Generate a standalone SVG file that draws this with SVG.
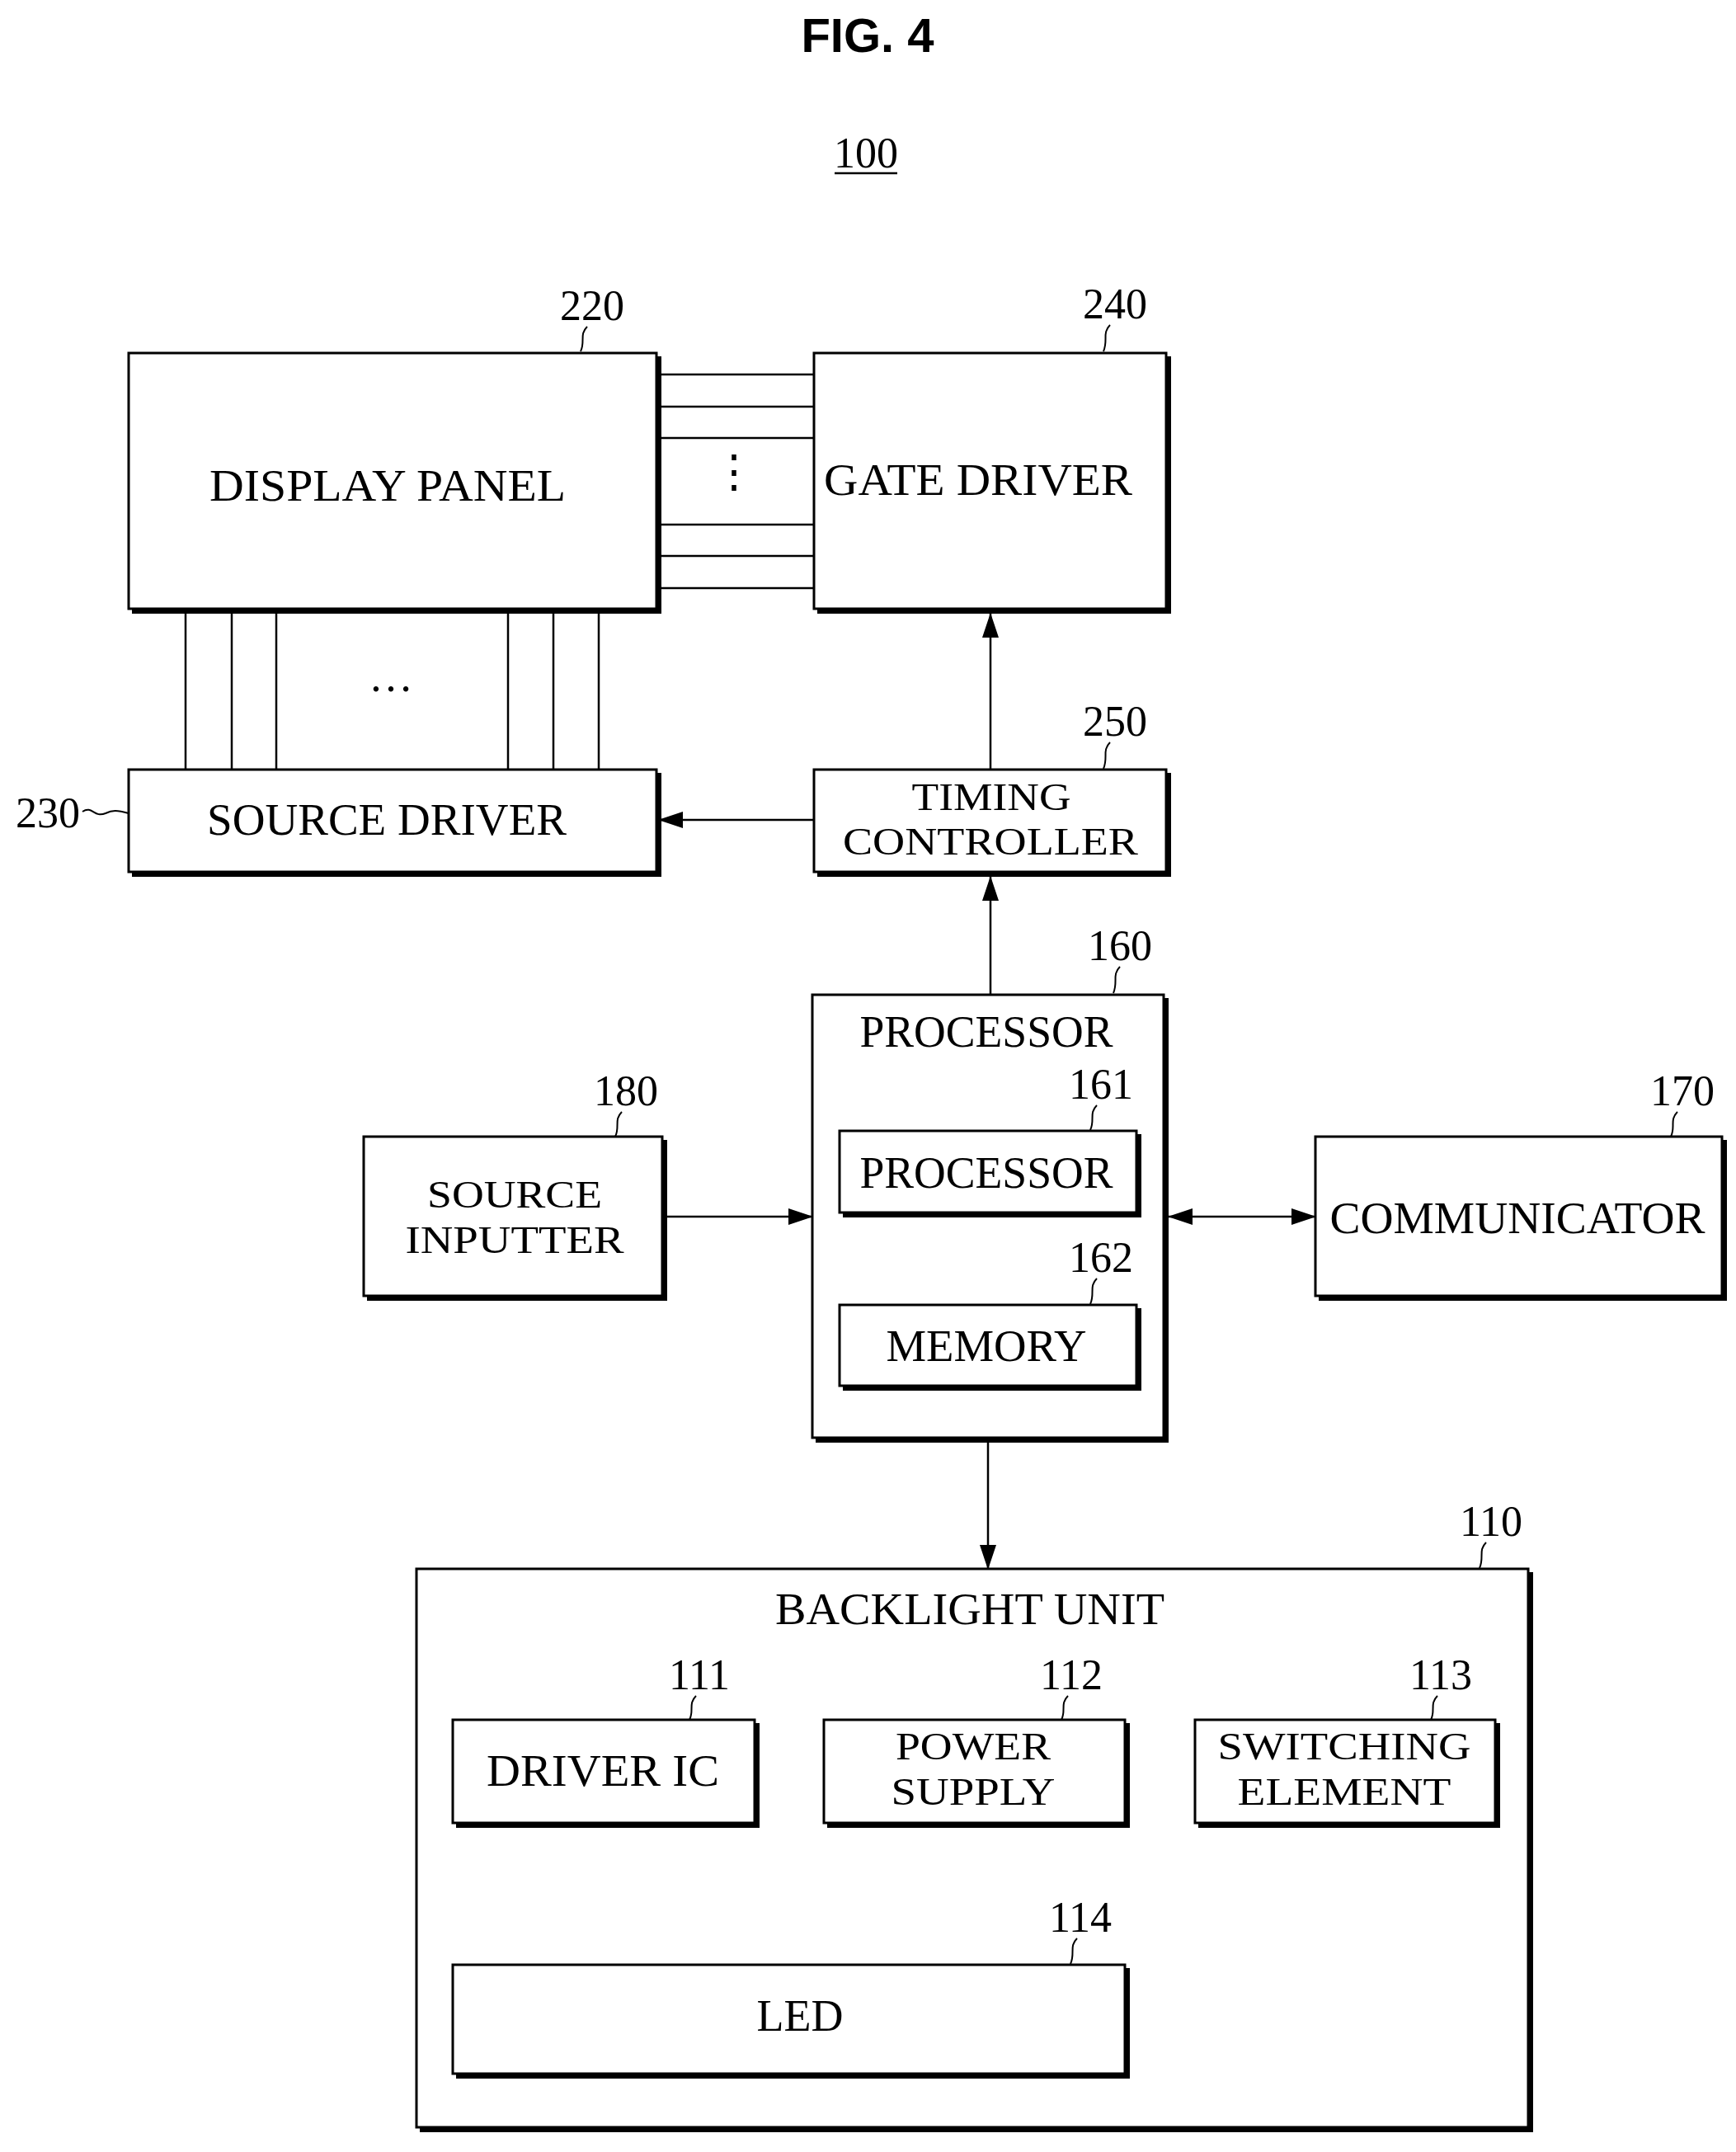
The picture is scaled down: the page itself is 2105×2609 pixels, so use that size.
<svg xmlns="http://www.w3.org/2000/svg" width="2105" height="2609" viewBox="0 0 2105 2609">
<style>
.b{fill:#fff;stroke:#000;stroke-width:3}
.sh{fill:none;stroke:#000;stroke-width:6}
.t{font-family:"Liberation Serif",serif;font-size:54px;fill:#000}
.t2{font-family:"Liberation Serif",serif;font-size:47px;fill:#000}
.n{font-family:"Liberation Serif",serif;font-size:52px;fill:#000}
.l{fill:none;stroke:#000;stroke-width:2.5}
.w{fill:none;stroke:#000;stroke-width:2}
</style>
<defs>
<marker id="a" markerWidth="30" markerHeight="20" refX="29" refY="10" orient="auto" markerUnits="userSpaceOnUse"><path d="M0,0 L30,10 L0,20 Z" fill="#000"/></marker>
<marker id="s" markerWidth="30" markerHeight="20" refX="1" refY="10" orient="auto" markerUnits="userSpaceOnUse"><path d="M30,0 L0,10 L30,20 Z" fill="#000"/></marker>
</defs>
<rect width="2105" height="2609" fill="#fff"/>
<text x="1052" y="63" text-anchor="middle" font-family="Liberation Sans,sans-serif" font-weight="bold" font-size="58">FIG. 4</text>
<text class="n" x="1050" y="203" text-anchor="middle">100</text>
<line x1="1012" y1="210" x2="1088" y2="210" stroke="#000" stroke-width="2.5"/>

<g id="connectors">
<line class="l" x1="796" y1="454" x2="987" y2="454"/>
<line class="l" x1="796" y1="493" x2="987" y2="493"/>
<line class="l" x1="796" y1="531" x2="987" y2="531"/>
<line class="l" x1="796" y1="636" x2="987" y2="636"/>
<line class="l" x1="796" y1="674" x2="987" y2="674"/>
<line class="l" x1="796" y1="713" x2="987" y2="713"/>
<text class="t" x="890" y="590" text-anchor="middle" font-size="40">⋮</text>
<line class="l" x1="225" y1="742" x2="225" y2="933"/>
<line class="l" x1="281" y1="742" x2="281" y2="933"/>
<line class="l" x1="335" y1="742" x2="335" y2="933"/>
<line class="l" x1="616" y1="742" x2="616" y2="933"/>
<line class="l" x1="671" y1="742" x2="671" y2="933"/>
<line class="l" x1="726" y1="742" x2="726" y2="933"/>
<text class="t" x="474" y="838" text-anchor="middle" font-size="40">…</text>
<line class="l" x1="1201" y1="933" x2="1201" y2="744" marker-end="url(#a)"/>
<line class="l" x1="987" y1="994" x2="799" y2="994" marker-end="url(#a)"/>
<line class="l" x1="1201" y1="1206" x2="1201" y2="1063" marker-end="url(#a)"/>
<line class="l" x1="809" y1="1475" x2="985" y2="1475" marker-end="url(#a)"/>
<line class="l" x1="1417" y1="1475" x2="1595" y2="1475" marker-start="url(#s)" marker-end="url(#a)"/>
<line class="l" x1="1198" y1="1749" x2="1198" y2="1902" marker-end="url(#a)"/>
<line class="l" x1="731" y1="2214" x2="731" y2="2382" marker-end="url(#a)"/>
<line class="l" x1="1182" y1="2214" x2="1182" y2="2382" marker-end="url(#a)"/>
</g>

<g id="n220">
<path class="sh" d="M160,741 H799 V432"/><rect class="b" x="156" y="428" width="640" height="310"/>
<text class="t" x="470" y="607" text-anchor="middle" textLength="432" lengthAdjust="spacingAndGlyphs">DISPLAY  PANEL</text>
<text class="n" x="718" y="388" text-anchor="middle">220</text><path class="w" d="M712,396 c-10,10 -2,18 -8,30"/>
</g>
<g id="n240">
<path class="sh" d="M991,741 H1417 V432"/><rect class="b" x="987" y="428" width="427" height="310"/>
<text class="t" x="1186" y="600" text-anchor="middle" textLength="374" lengthAdjust="spacingAndGlyphs">GATE  DRIVER</text>
<text class="n" x="1352" y="386" text-anchor="middle">240</text><path class="w" d="M1346,394 c-10,10 -2,18 -8,32"/>
</g>
<g id="n230">
<path class="sh" d="M160,1060 H799 V937"/><rect class="b" x="156" y="933" width="640" height="124"/>
<text class="t" x="469" y="1012" text-anchor="middle" textLength="436" lengthAdjust="spacingAndGlyphs">SOURCE  DRIVER</text>
<text class="n" x="58" y="1003" text-anchor="middle">230</text><path class="w" d="M100,984 c12,-8 14,8 28,2 c8,-4 14,-4 28,0"/>
</g>
<g id="n250">
<path class="sh" d="M991,1060 H1417 V937"/><rect class="b" x="987" y="933" width="427" height="124"/>
<text class="t2" x="1202" y="982" text-anchor="middle" textLength="193" lengthAdjust="spacingAndGlyphs">TIMING</text>
<text class="t2" x="1201" y="1036" text-anchor="middle" textLength="358" lengthAdjust="spacingAndGlyphs">CONTROLLER</text>
<text class="n" x="1352" y="892" text-anchor="middle">250</text><path class="w" d="M1346,900 c-10,10 -2,18 -8,32"/>
</g>
<g id="n160">
<path class="sh" d="M989,1746 H1414 V1210"/><rect class="b" x="985" y="1206" width="426" height="537"/>
<text class="t" x="1196" y="1269" text-anchor="middle" textLength="307" lengthAdjust="spacingAndGlyphs">PROCESSOR</text>
<text class="n" x="1358" y="1164" text-anchor="middle">160</text><path class="w" d="M1358,1172 c-10,10 -2,18 -8,32"/>
</g>
<g id="n161">
<path class="sh" d="M1022,1473 H1381 V1375"/><rect class="b" x="1018" y="1371" width="360" height="99"/>
<text class="t" x="1196" y="1440" text-anchor="middle" textLength="307" lengthAdjust="spacingAndGlyphs">PROCESSOR</text>
<text class="n" x="1335" y="1332" text-anchor="middle">161</text><path class="w" d="M1330,1340 c-10,10 -2,18 -8,30"/>
</g>
<g id="n162">
<path class="sh" d="M1022,1683 H1381 V1586"/><rect class="b" x="1018" y="1582" width="360" height="98"/>
<text class="t" x="1196" y="1650" text-anchor="middle" textLength="243" lengthAdjust="spacingAndGlyphs">MEMORY</text>
<text class="n" x="1335" y="1542" text-anchor="middle">162</text><path class="w" d="M1330,1550 c-10,10 -2,18 -8,31"/>
</g>
<g id="n180">
<path class="sh" d="M445,1574 H806 V1382"/><rect class="b" x="441" y="1378" width="362" height="193"/>
<text class="t2" x="624" y="1464" text-anchor="middle" textLength="212" lengthAdjust="spacingAndGlyphs">SOURCE</text>
<text class="t2" x="624" y="1519" text-anchor="middle" textLength="265" lengthAdjust="spacingAndGlyphs">INPUTTER</text>
<text class="n" x="759" y="1340" text-anchor="middle">180</text><path class="w" d="M754,1348 c-10,10 -2,18 -8,30"/>
</g>
<g id="n170">
<path class="sh" d="M1599,1574 H2091 V1382"/><rect class="b" x="1595" y="1378" width="493" height="193"/>
<text class="t" x="1840" y="1495" text-anchor="middle" textLength="455" lengthAdjust="spacingAndGlyphs">COMMUNICATOR</text>
<text class="n" x="2040" y="1340" text-anchor="middle">170</text><path class="w" d="M2034,1348 c-10,10 -2,18 -8,30"/>
</g>
<g id="n110">
<path class="sh" d="M509,2582 H1856 V1906"/><rect class="b" x="505" y="1902" width="1348" height="677"/>
<text class="t" x="1176" y="1969" text-anchor="middle" textLength="472" lengthAdjust="spacingAndGlyphs">BACKLIGHT  UNIT</text>
<text class="n" x="1808" y="1862" text-anchor="middle">110</text><path class="w" d="M1802,1870 c-10,10 -2,18 -8,31"/>
</g>
<g id="n111">
<path class="sh" d="M553,2213 H918 V2089"/><rect class="b" x="549" y="2085" width="366" height="125"/>
<text class="t" x="731" y="2165" text-anchor="middle" textLength="282" lengthAdjust="spacingAndGlyphs">DRIVER  IC</text>
<text class="n" x="848" y="2048" text-anchor="middle">111</text><path class="w" d="M844,2056 c-10,10 -2,18 -8,29"/>
</g>
<g id="n112">
<path class="sh" d="M1003,2213 H1367 V2089"/><rect class="b" x="999" y="2085" width="365" height="125"/>
<text class="t2" x="1180" y="2133" text-anchor="middle" textLength="188" lengthAdjust="spacingAndGlyphs">POWER</text>
<text class="t2" x="1180" y="2188" text-anchor="middle" textLength="199" lengthAdjust="spacingAndGlyphs">SUPPLY</text>
<text class="n" x="1299" y="2048" text-anchor="middle">112</text><path class="w" d="M1295,2056 c-10,10 -2,18 -8,29"/>
</g>
<g id="n113">
<path class="sh" d="M1453,2213 H1816 V2089"/><rect class="b" x="1449" y="2085" width="364" height="125"/>
<text class="t2" x="1630" y="2133" text-anchor="middle" textLength="307" lengthAdjust="spacingAndGlyphs">SWITCHING</text>
<text class="t2" x="1630" y="2188" text-anchor="middle" textLength="259" lengthAdjust="spacingAndGlyphs">ELEMENT</text>
<text class="n" x="1747" y="2048" text-anchor="middle">113</text><path class="w" d="M1743,2056 c-10,10 -2,18 -8,29"/>
</g>
<g id="n114">
<path class="sh" d="M553,2517 H1367 V2386"/><rect class="b" x="549" y="2382" width="815" height="132"/>
<text class="t" x="970" y="2462" text-anchor="middle" textLength="105" lengthAdjust="spacingAndGlyphs">LED</text>
<text class="n" x="1310" y="2342" text-anchor="middle">114</text><path class="w" d="M1306,2350 c-10,10 -2,18 -8,31"/>
</g>
</svg>
